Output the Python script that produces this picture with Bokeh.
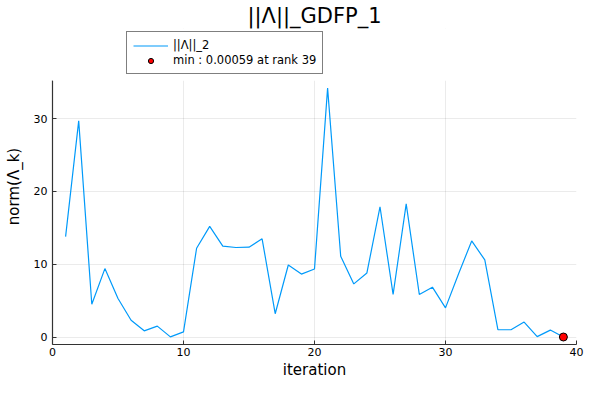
from bokeh.plotting import figure
from bokeh.models import Range1d, Legend, LegendItem, FixedTicker, BoxAnnotation
from bokeh.embed import file_html
from bokeh.resources import INLINE

# ||Λ||_2 per iteration
iterations = list(range(1, 40))
norms = [13.8, 29.7, 4.5, 9.4, 5.3, 2.3, 0.85, 1.5, 0.02, 0.7,
         12.2, 15.2, 12.5, 12.3, 12.35, 13.5, 3.2, 9.9, 8.65, 9.35,
         34.2, 11.1, 7.3, 8.8, 17.9, 5.85, 18.3, 5.85, 6.85, 4.0,
         8.7, 13.2, 10.6, 1.0, 1.0, 2.05, 0.05, 0.95, 0.00059]
min_rank = [39]
min_value = [0.00059]
x_ticks = [0, 10, 20, 30, 40]
y_ticks = [0, 10, 20, 30]

FONT = "DejaVu Sans"
Y_LO, Y_HI = -1.03, 35.23   # data limits (3% padding); extra room above holds the legend

p = figure(width=584, height=384, output_backend="svg", toolbar_location=None,
           x_range=Range1d(0, 40), y_range=Range1d(Y_LO, 42.4),
           title="||Λ||_GDFP_1", x_axis_label="iteration", y_axis_label="norm(Λ_k)",
           min_border_left=52, min_border_right=8, min_border_top=0, min_border_bottom=40)

p.title.align = "center"
p.title.text_font = FONT
p.title.text_font_size = "21px"
p.title.text_font_style = "normal"
p.title.text_color = "#000000"
p.title.standoff = 2

p.outline_line_color = None
p.background_fill_color = "white"

for ax, ticks in ((p.xaxis[0], x_ticks), (p.yaxis[0], y_ticks)):
    ax.ticker = FixedTicker(ticks=ticks)
    ax.axis_line_color = "#333333"
    ax.axis_line_width = 1.2
    ax.major_tick_in = 4
    ax.major_tick_out = 0
    ax.major_tick_line_color = "#333333"
    ax.minor_tick_line_color = None
    ax.major_label_text_font = FONT
    ax.major_label_text_font_size = "11px"
    ax.major_label_text_color = "#000000"
    ax.axis_label_text_font = FONT
    ax.axis_label_text_font_size = "15px"
    ax.axis_label_text_font_style = "normal"
    ax.axis_label_text_color = "#000000"

p.yaxis.bounds = (Y_LO, Y_HI)
p.xaxis.axis_label_standoff = 2
p.yaxis.axis_label_standoff = 8
p.xaxis.major_label_standoff = 3

p.grid.grid_line_color = "black"
p.grid.grid_line_alpha = 0.08
p.grid.grid_line_width = 1
p.xgrid.ticker = FixedTicker(ticks=x_ticks)
p.ygrid.ticker = FixedTicker(ticks=y_ticks)

line = p.line(iterations, norms, line_color="#009AFA", line_width=1.2)
pt = p.scatter(min_rank, min_value, size=8, fill_color="red", line_color="black", line_width=1)

# blank out the grid above the data area, where the legend sits
p.add_layout(BoxAnnotation(bottom=Y_HI, fill_color="white", fill_alpha=1, line_color=None))

legend = Legend(items=[LegendItem(label="||Λ||_2", renderers=[line]),
                       LegendItem(label="min : 0.00059 at rank 39", renderers=[pt])],
                location=(74, 270), orientation="vertical")
legend.border_line_color = "black"
legend.border_line_width = 1
legend.background_fill_alpha = 1
legend.label_text_font = FONT
legend.label_text_font_size = "11.5px"
legend.label_text_color = "#000000"
legend.label_height = 13
legend.glyph_height = 13
legend.glyph_width = 35
legend.label_standoff = 5
legend.spacing = 1
legend.padding = 6
legend.margin = 0
p.add_layout(legend, "center")

open("out.html", "w").write(file_html(p, INLINE))
